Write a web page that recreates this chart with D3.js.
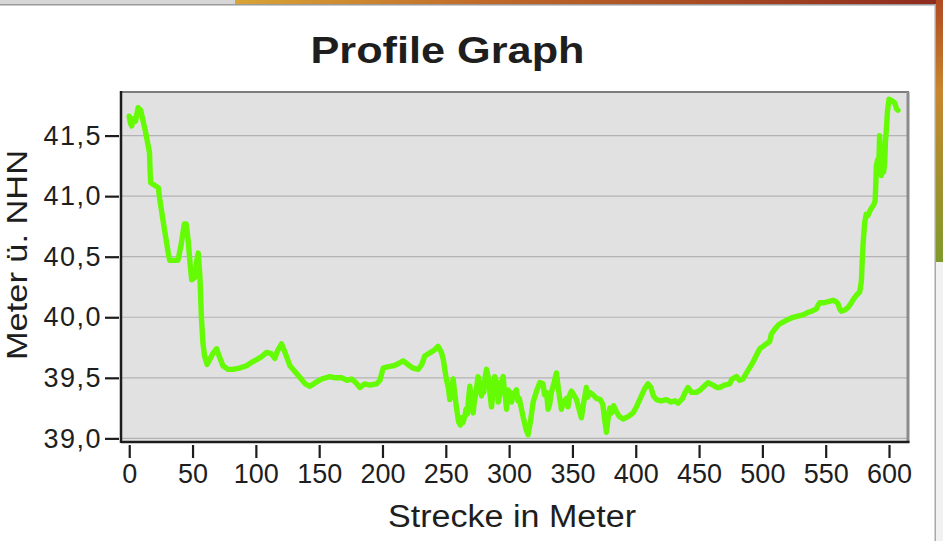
<!DOCTYPE html>
<html>
<head>
<meta charset="utf-8">
<script src="https://cdn.jsdelivr.net/npm/d3@7/dist/d3.min.js"></script>
<style>
  html, body { margin: 0; padding: 0; background: #ffffff; }
  svg { display: block; }
  text { font-family: "Liberation Sans", Arial, Helvetica, sans-serif; fill: #1e1e1e; }
</style>
</head>
<body>
<svg id="chart" width="943" height="541"></svg>
<script>
// Distance along the profile line (m)
const distance = [
  0, 1, 2, 3, 5, 7, 9, 11, 12.5, 14, 16, 16.5, 17, 20, 23, 24, 25.5, 27, 29, 31,
  32, 35, 38.5, 41, 43.5, 45, 46.5, 48, 49.3, 51.9, 53, 54.5, 55.8, 57, 58.2, 59.5,
  61.5, 64, 66, 69, 71, 74, 78, 82, 87, 92.7, 97, 100.6, 104, 108.5, 112, 115, 117,
  120.3, 123, 126.9, 131, 135, 139, 142.7, 147, 152, 158.4, 163, 168, 172, 175.6,
  179, 182.1, 186, 190, 195.3, 198, 200.5, 204, 209, 213, 216.3, 220, 224, 228.2,
  231, 233.4, 238, 241, 243.9, 246.5, 247.9, 249.5, 250.6, 252, 253.2, 254.5, 255.8,
  257.2, 258.5, 260, 261.5, 262.5, 263.5, 265, 266, 267, 268, 269, 270.3, 271.6, 272.5,
  273.5, 275.5, 277, 278.2, 279, 280, 281, 282.2, 284, 285, 286.1, 287.5, 288.7,
  290.5, 291.5, 292.7, 294, 295.3, 296, 297, 298, 299.2, 300.5, 302, 303, 305.8,
  307, 308, 311, 313.5, 315, 317, 319, 322, 324.2, 326.8, 328, 329.5,
  330.8, 332, 333.4, 335.5, 337.4, 339, 341.3, 343, 345.3, 346.5, 347.9, 349.2, 351,
  353.2, 355, 357.1, 359, 361, 362, 363.5, 366.3, 369, 372, 374, 375.5, 376.9, 378,
  379.5, 381, 382.5, 384.8, 387, 390, 394, 397.9, 401, 404.5, 407, 409.7, 412, 414,
  416.4, 420, 424.2, 428, 431, 433.4, 437, 439, 441.3, 444, 447.9, 451, 454, 457.1,
  461, 464, 466.3, 470, 474.2, 476, 479.5, 482, 484.7, 488, 492.6, 496, 498, 500.5,
  503, 505.8, 507, 509.7, 513, 516.3, 520, 524.2, 528, 532.1, 536, 539, 542.7, 544,
  545.3, 549, 552, 555.8, 558, 559.8, 561, 562.4, 565, 567.6, 570.3, 572, 574.2,
  576.9, 578.2, 578.8, 579.5, 580.8, 582, 583.4, 585, 586.1, 588, 589, 589.6, 590,
  591, 591.8, 592.6, 593.3, 594, 595, 595.8, 596.6, 597.2, 597.9, 598.8, 600, 602,
  604.5, 606, 607.1
];

// Elevation above sea level (m ü. NHN)
const elevation = [
  41.66, 41.60, 41.58, 41.64, 41.62, 41.73, 41.71, 41.62, 41.55, 41.47, 41.36, 41.20,
  41.11, 41.09, 41.07, 40.98, 40.88, 40.78, 40.65, 40.52, 40.47, 40.47, 40.47, 40.60,
  40.77, 40.77, 40.64, 40.45, 40.31, 40.33, 40.45, 40.53, 40.34, 40.00, 39.79, 39.68,
  39.61, 39.66, 39.70, 39.74, 39.68, 39.60, 39.57, 39.57, 39.58, 39.60, 39.63, 39.65,
  39.67, 39.71, 39.70, 39.66, 39.72, 39.78, 39.71, 39.60, 39.55, 39.50, 39.45, 39.43,
  39.46, 39.49, 39.51, 39.50, 39.50, 39.48, 39.49, 39.46, 39.42, 39.45, 39.44, 39.45,
  39.48, 39.58, 39.59, 39.60, 39.62, 39.64, 39.61, 39.58, 39.57, 39.61, 39.68, 39.71,
  39.73, 39.76, 39.71, 39.66, 39.55, 39.48, 39.42, 39.32, 39.40, 39.49, 39.36, 39.25,
  39.14, 39.11, 39.17, 39.13, 39.18, 39.24, 39.20, 39.33, 39.43, 39.30, 39.21, 39.30,
  39.36, 39.51, 39.44, 39.35, 39.42, 39.38, 39.50, 39.57, 39.48, 39.36, 39.26, 39.40,
  39.51, 39.45, 39.30, 39.37, 39.46, 39.51, 39.42, 39.35, 39.24, 39.40, 39.38, 39.30,
  39.36, 39.40, 39.31, 39.33, 39.18, 39.07, 39.03, 39.15, 39.30, 39.40, 39.46, 39.45,
  39.36, 39.38, 39.24, 39.28, 39.38, 39.46, 39.54, 39.40, 39.24, 39.30, 39.33, 39.26,
  39.36, 39.39, 39.36, 39.32, 39.25, 39.17, 39.30, 39.42, 39.34, 39.38, 39.36, 39.33,
  39.32, 39.28, 39.15, 39.05, 39.15, 39.25, 39.21, 39.27, 39.22, 39.18, 39.16, 39.18,
  39.21, 39.27, 39.35, 39.41, 39.45, 39.42, 39.35, 39.32, 39.31, 39.32, 39.30, 39.31,
  39.29, 39.33, 39.38, 39.42, 39.38, 39.38, 39.40, 39.43, 39.46, 39.44, 39.42, 39.42,
  39.44, 39.45, 39.49, 39.51, 39.48, 39.49, 39.55, 39.63, 39.70, 39.74, 39.76, 39.78,
  39.80, 39.86, 39.90, 39.94, 39.96, 39.98, 40.00, 40.01, 40.02, 40.04, 40.05, 40.07,
  40.10, 40.12, 40.12, 40.13, 40.14, 40.13, 40.11, 40.07, 40.05, 40.06, 40.08, 40.12,
  40.15, 40.18, 40.21, 40.30, 40.45, 40.60, 40.78, 40.85, 40.84, 40.88, 40.90, 40.93,
  40.96, 41.10, 41.25, 41.30, 41.20, 41.50, 41.30, 41.17, 41.35, 41.20, 41.28, 41.45,
  41.55, 41.70, 41.80, 41.79, 41.77, 41.72, 41.71
];

const xTicks = [0, 50, 100, 150, 200, 250, 300, 350, 400, 450, 500, 550, 600];
const yTicks = [39.0, 39.5, 40.0, 40.5, 41.0, 41.5];

const titleText = "Profile Graph";
const xTitle = "Strecke in Meter";
const yTitle = "Meter ü. NHN";

const svg = d3.select("#chart");

// Window chrome around the chart panel
const chrome = svg.append("defs");
const topGrad = chrome.append("linearGradient").attr("id", "topStrip");
topGrad.append("stop").attr("offset", "0%").attr("stop-color", "#d9a536");
topGrad.append("stop").attr("offset", "35%").attr("stop-color", "#c06a2a");
topGrad.append("stop").attr("offset", "100%").attr("stop-color", "#8e2a1e");
const sideGrad = chrome.append("linearGradient").attr("id", "sideStrip")
  .attr("x1", 0).attr("y1", 0).attr("x2", 0).attr("y2", 1);
sideGrad.append("stop").attr("offset", "0%").attr("stop-color", "#b04a22");
sideGrad.append("stop").attr("offset", "35%").attr("stop-color", "#c8862e");
sideGrad.append("stop").attr("offset", "100%").attr("stop-color", "#7f9a2c");

svg.append("rect").attr("x", 0).attr("y", 0).attr("width", 235).attr("height", 4).attr("fill", "#d6d6d6");
svg.append("rect").attr("x", 235).attr("y", 0).attr("width", 708).attr("height", 4).attr("fill", "url(#topStrip)");
svg.append("rect").attr("x", 0).attr("y", 4).attr("width", 936).attr("height", 1.5).attr("fill", "#9a9a9a");
svg.append("rect").attr("x", 936).attr("y", 0).attr("width", 7).attr("height", 262).attr("fill", "url(#sideStrip)");
svg.append("rect").attr("x", 936).attr("y", 262).attr("width", 7).attr("height", 279).attr("fill", "#f1f1f1");
svg.append("rect").attr("x", 934.5).attr("y", 4).attr("width", 1.5).attr("height", 537).attr("fill", "#a8a8a8");

// Plot geometry
const plot = { left: 121, right: 908, top: 92, bottom: 442 };

const x = d3.scaleLinear().domain([-6.5, 615]).range([plot.left, plot.right]);
const y = d3.scaleLinear().domain([38.97, 41.86]).range([plot.bottom, plot.top]);

// Plot background
svg.append("rect")
  .attr("x", plot.left).attr("y", plot.top)
  .attr("width", plot.right - plot.left).attr("height", plot.bottom - plot.top)
  .attr("fill", "#e1e1e1");

// Horizontal gridlines
svg.append("g")
  .selectAll("line")
  .data(yTicks)
  .join("line")
  .attr("x1", plot.left).attr("x2", plot.right)
  .attr("y1", d => y(d)).attr("y2", d => y(d))
  .attr("stroke", "#b3b3b3").attr("stroke-width", 1.2);

// Profile line
const points = distance.map((d, i) => [d, elevation[i]]);
const line = d3.line().x(d => x(d[0])).y(d => y(d[1]));
svg.append("path")
  .datum(points)
  .attr("d", line)
  .attr("fill", "none")
  .attr("stroke", "#64fb04")
  .attr("stroke-width", 5.4)
  .attr("stroke-linejoin", "round")
  .attr("stroke-linecap", "round");

// Frame: light top/right edges, dark axis edges
svg.append("line").attr("x1", plot.left).attr("x2", plot.right + 1)
  .attr("y1", plot.top).attr("y2", plot.top).attr("stroke", "#7d7d7d").attr("stroke-width", 2);
svg.append("line").attr("x1", plot.right).attr("x2", plot.right)
  .attr("y1", plot.top).attr("y2", plot.bottom).attr("stroke", "#8c8c8c").attr("stroke-width", 3);
svg.append("line").attr("x1", plot.left).attr("x2", plot.right + 1.5)
  .attr("y1", plot.bottom).attr("y2", plot.bottom).attr("stroke", "#1c1c1c").attr("stroke-width", 2.5);
svg.append("line").attr("x1", plot.left).attr("x2", plot.left)
  .attr("y1", plot.top - 1).attr("y2", plot.bottom + 1).attr("stroke", "#1c1c1c").attr("stroke-width", 2.5);

// Axes
const fmt = d3.formatLocale({ decimal: ",", thousands: ".", grouping: [3], currency: ["", " €"] }).format(".1f");

const yAxis = svg.append("g")
  .attr("transform", `translate(${plot.left - 2},0)`)
  .call(d3.axisLeft(y).tickValues(yTicks).tickFormat(fmt).tickSize(14).tickPadding(3));
yAxis.select(".domain").remove();
yAxis.selectAll(".tick line").attr("stroke", "#1c1c1c").attr("stroke-width", 2.2);
yAxis.selectAll(".tick text")
  .attr("font-size", 27).attr("fill", "#1e1e1e")
  .attr("letter-spacing", 1.5)
  .style("font-family", '"Liberation Sans", Arial, sans-serif');

const xAxis = svg.append("g")
  .attr("transform", `translate(0,${plot.bottom + 3})`)
  .call(d3.axisBottom(x).tickValues(xTicks).tickFormat(d3.format("d")).tickSize(13).tickPadding(6));
xAxis.select(".domain").remove();
xAxis.selectAll(".tick line").attr("stroke", "#1c1c1c").attr("stroke-width", 2.2);
xAxis.selectAll(".tick text")
  .attr("font-size", 27).attr("fill", "#1e1e1e")
  .style("font-family", '"Liberation Sans", Arial, sans-serif');

// Titles
svg.append("text")
  .attr("x", 447.5).attr("y", 63)
  .attr("text-anchor", "middle")
  .attr("font-size", 37).attr("font-weight", "bold")
  .attr("textLength", 274).attr("lengthAdjust", "spacingAndGlyphs")
  .attr("fill", "#000")
  .text(titleText);

svg.append("text")
  .attr("x", 512).attr("y", 527)
  .attr("text-anchor", "middle")
  .attr("font-size", 31)
  .attr("textLength", 248).attr("lengthAdjust", "spacingAndGlyphs")
  .text(xTitle);

svg.append("text")
  .attr("transform", "translate(27,255) rotate(-90)")
  .attr("text-anchor", "middle")
  .attr("font-size", 30)
  .attr("textLength", 210).attr("lengthAdjust", "spacingAndGlyphs")
  .text(yTitle);
</script>
</body>
</html>
